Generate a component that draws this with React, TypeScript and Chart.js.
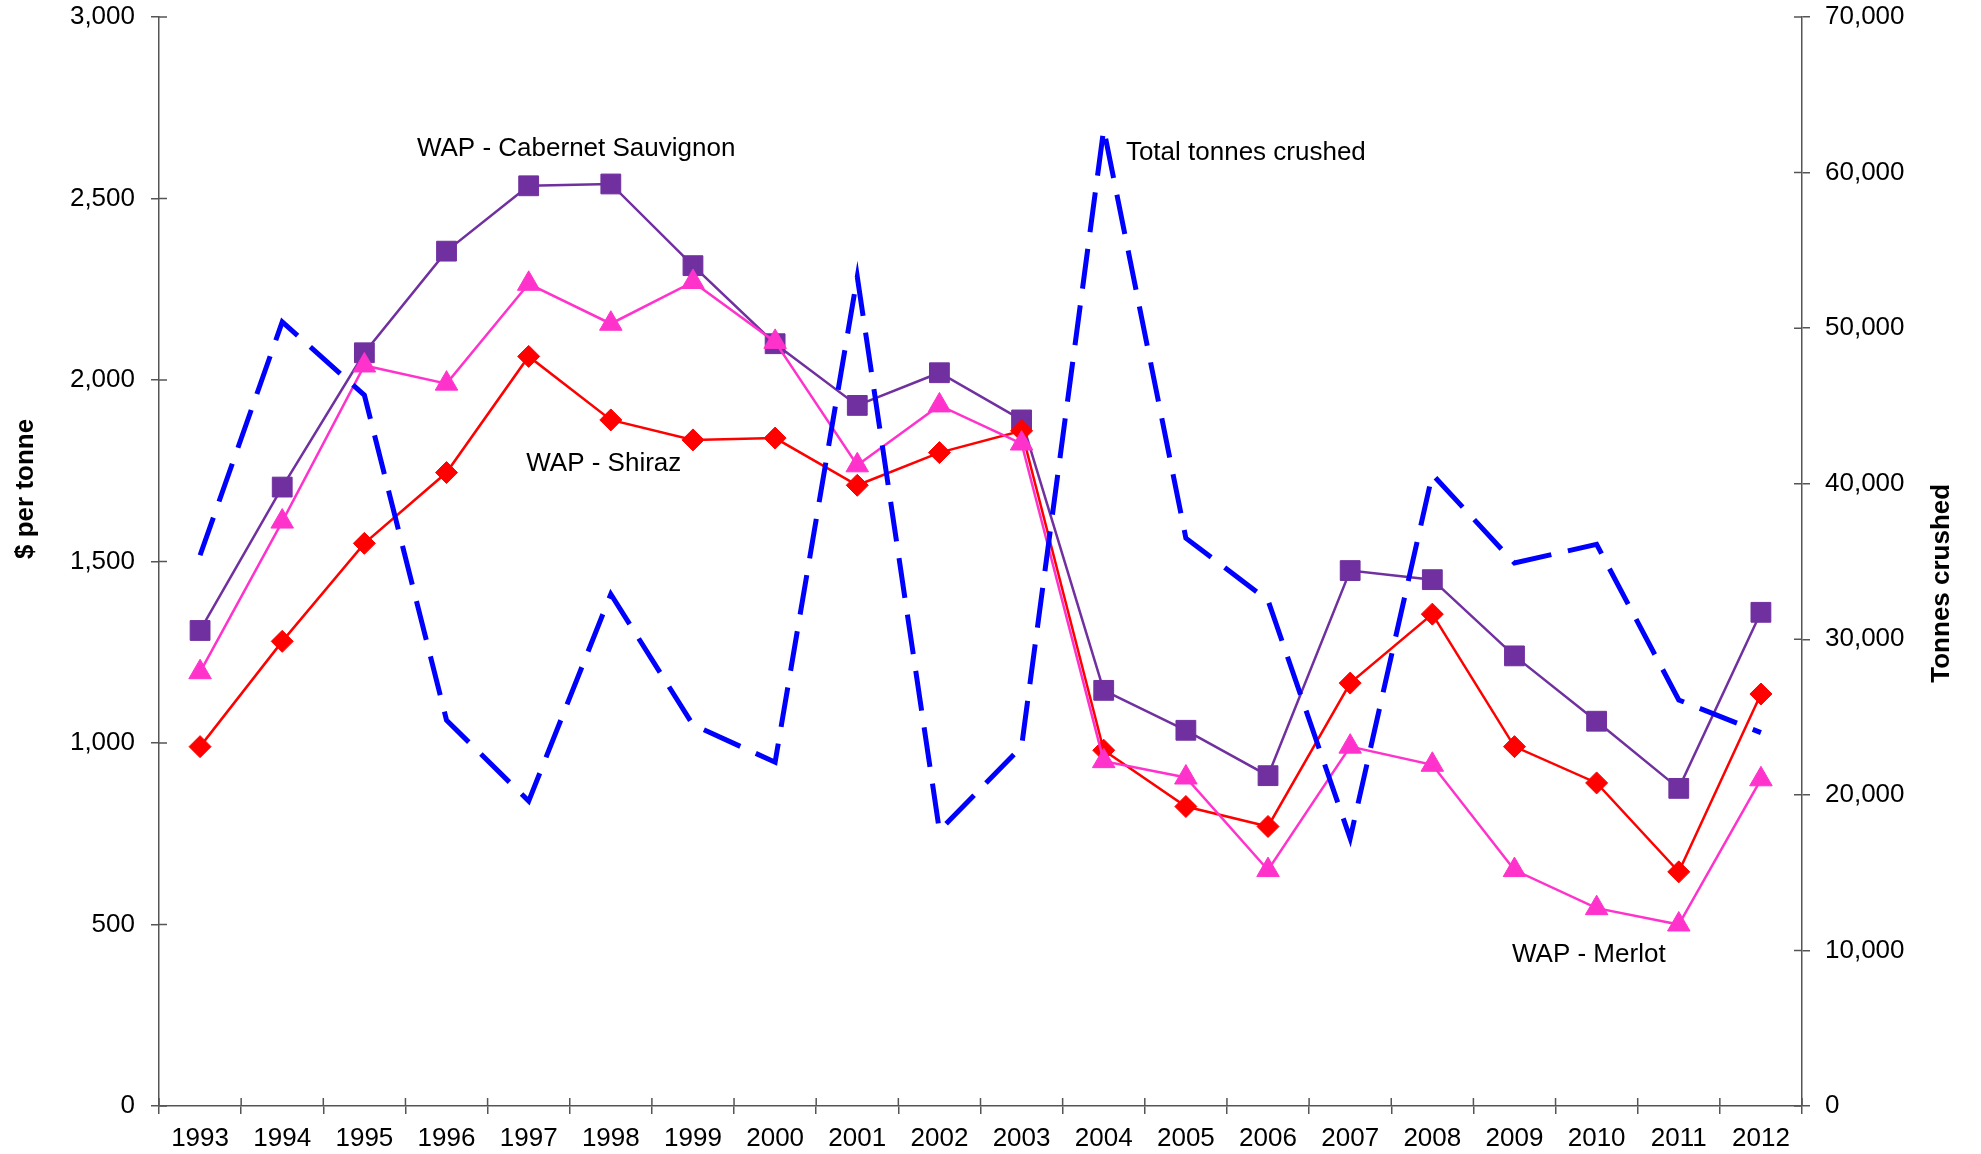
import React, { useEffect, useRef } from 'react';
import { Chart, registerables } from 'chart.js';

Chart.register(...registerables);

const years = ['1993', '1994', '1995', '1996', '1997', '1998', '1999', '2000', '2001', '2002', '2003', '2004', '2005', '2006', '2007', '2008', '2009', '2010', '2011', '2012'];
const cabernet = [1310, 1705, 2075, 2355, 2535, 2540, 2315, 2100, 1930, 2020, 1890, 1145, 1035, 910, 1475, 1450, 1240, 1060, 875, 1360];
const shiraz = [990, 1280, 1550, 1745, 2065, 1890, 1835, 1840, 1710, 1800, 1860, 980, 825, 770, 1165, 1355, 990, 890, 645, 1135];
const merlot = [1195, 1610, 2040, 1990, 2265, 2155, 2270, 2105, 1765, 1930, 1825, 950, 905, 650, 990, 940, 650, 545, 500, 900];
const tonnes = [35400, 50400, 45700, 24800, 19600, 32900, 24500, 22100, 53300, 17700, 23100, 62800, 36500, 32500, 17200, 40600, 34900, 36100, 26100, 24000];

const leftMax = 3000;
const leftStep = 500;
const rightMax = 70000;
const rightStep = 10000;

const labelTexts = ['WAP - Cabernet Sauvignon', 'Total tonnes crushed', 'WAP - Shiraz', 'WAP - Merlot'];
const labelXIndex = [2.64, 11.27, 3.97, 15.97];
const labelYValue = [2636, 2625, 1769, 416];

const FONT = '"Liberation Sans", Arial, Helvetica, sans-serif';
const AXIS_COLOR = '#555555';

const crossTicks = {
  id: 'crossTicks',
  afterDraw(chart: any) {
    const ctx = chart.ctx;
    const { left, right, bottom } = chart.chartArea;
    const y = chart.scales.y;
    const y1 = chart.scales.y1;
    const x = chart.scales.x;
    ctx.save();
    ctx.strokeStyle = AXIS_COLOR;
    ctx.lineWidth = 1.5;
    ctx.beginPath();
    y.ticks.forEach((_t: any, i: number) => {
      const p = y.getPixelForTick(i);
      ctx.moveTo(left, p);
      ctx.lineTo(left + 8, p);
    });
    y1.ticks.forEach((_t: any, i: number) => {
      const p = y1.getPixelForTick(i);
      ctx.moveTo(right, p);
      ctx.lineTo(right - 8, p);
    });
    const n = x.ticks.length;
    for (let i = 0; i <= n; i++) {
      const p = x.getPixelForValue(i - 0.5);
      ctx.moveTo(p, bottom);
      ctx.lineTo(p, bottom - 8);
    }
    ctx.stroke();
    ctx.restore();
  },
};

const textPlugin = {
  id: 'textPlugin',
  afterDraw(chart: any) {
    const ctx = chart.ctx;
    const x = chart.scales.x;
    const y = chart.scales.y;
    const y1 = chart.scales.y1;
    const { left, right } = chart.chartArea;
    ctx.save();
    ctx.fillStyle = '#000000';
    ctx.font = `26px ${FONT}`;
    ctx.textAlign = 'left';
    ctx.textBaseline = 'middle';
    labelTexts.forEach((t, i) => {
      ctx.fillText(t, x.getPixelForValue(labelXIndex[i]), y.getPixelForValue(labelYValue[i]));
    });
    ctx.font = `bold 26px ${FONT}`;
    ctx.textAlign = 'center';
    ctx.save();
    ctx.translate(left - 133, y.getPixelForValue(1700));
    ctx.rotate(-Math.PI / 2);
    ctx.fillText('$ per tonne', 0, 0);
    ctx.restore();
    ctx.save();
    ctx.translate(right + 140, y1.getPixelForValue(33600));
    ctx.rotate(-Math.PI / 2);
    ctx.fillText('Tonnes crushed', 0, 0);
    ctx.restore();
    ctx.restore();
  },
};

const fmt = (v: any) => Number(v).toLocaleString('en-US');

export default function App() {
  const ref = useRef<HTMLCanvasElement | null>(null);

  useEffect(() => {
    if (!ref.current) return;
    const chart = new Chart(ref.current, {
      type: 'line',
      data: {
        labels: years,
        datasets: [
          {
            label: 'Total tonnes crushed',
            data: tonnes,
            yAxisID: 'y1',
            borderColor: '#0000FF',
            backgroundColor: '#0000FF',
            borderWidth: 5,
            borderDash: [40, 17],
            borderCapStyle: 'butt',
            borderJoinStyle: 'miter',
            pointRadius: 0,
            fill: false,
            tension: 0,
          },
          {
            label: 'WAP - Merlot',
            data: merlot,
            yAxisID: 'y',
            borderColor: '#FF33CC',
            backgroundColor: '#FF33CC',
            borderWidth: 2.5,
            pointStyle: 'triangle',
            pointRadius: 13,
            pointBorderWidth: 1,
            fill: false,
            tension: 0,
          },
          {
            label: 'WAP - Shiraz',
            data: shiraz,
            yAxisID: 'y',
            borderColor: '#FF0000',
            backgroundColor: '#FF0000',
            borderWidth: 2.5,
            pointStyle: 'rectRot',
            pointRadius: 11,
            pointBorderWidth: 1,
            fill: false,
            tension: 0,
          },
          {
            label: 'WAP - Cabernet Sauvignon',
            data: cabernet,
            yAxisID: 'y',
            borderColor: '#7030A0',
            backgroundColor: '#7030A0',
            borderWidth: 2.5,
            pointStyle: 'rect',
            pointRadius: 14,
            pointBorderWidth: 1,
            fill: false,
            tension: 0,
          },
        ],
      },
      options: {
        animation: false,
        responsive: true,
        maintainAspectRatio: false,
        layout: { padding: { top: 17, left: 0, right: 0, bottom: 0 } },
        plugins: {
          legend: { display: false },
          tooltip: { enabled: false },
          title: { display: false },
        },
        scales: {
          x: {
            type: 'category',
            offset: true,
            grid: { display: true, drawOnChartArea: false, drawTicks: true, tickLength: 8, color: AXIS_COLOR, lineWidth: 1.5, offset: true },
            border: { display: true, color: AXIS_COLOR, width: 1.5 },
            ticks: { color: '#000000', font: { family: FONT, size: 26 }, padding: 9, autoSkip: false, maxRotation: 0, minRotation: 0 },
            afterFit: (s: any) => { s.height = 48; s.paddingLeft = 0; s.paddingRight = 0; },
          },
          y: {
            position: 'left',
            min: 0,
            max: leftMax,
            grid: { display: true, drawOnChartArea: false, drawTicks: true, tickLength: 8, color: AXIS_COLOR, lineWidth: 1.5 },
            border: { display: true, color: AXIS_COLOR, width: 1.5 },
            ticks: { stepSize: leftStep, color: '#000000', font: { family: FONT, size: 26 }, padding: 16, callback: fmt },
            afterFit: (s: any) => { s.width = 159; s.paddingTop = 0; s.paddingBottom = 0; },
          },
          y1: {
            position: 'right',
            min: 0,
            max: rightMax,
            grid: { display: true, drawOnChartArea: false, drawTicks: true, tickLength: 8, color: AXIS_COLOR, lineWidth: 1.5 },
            border: { display: true, color: AXIS_COLOR, width: 1.5 },
            ticks: { stepSize: rightStep, color: '#000000', font: { family: FONT, size: 26 }, padding: 15, callback: fmt },
            afterFit: (s: any) => { s.width = 179; s.paddingTop = 0; s.paddingBottom = 0; },
          },
        },
      },
      plugins: [crossTicks, textPlugin],
    } as any);
    return () => chart.destroy();
  }, []);

  return (
    <div style={{ position: 'fixed', left: 0, top: 0, width: 1981, height: 1154, background: '#ffffff' }}>
      <canvas ref={ref} />
    </div>
  );
}
